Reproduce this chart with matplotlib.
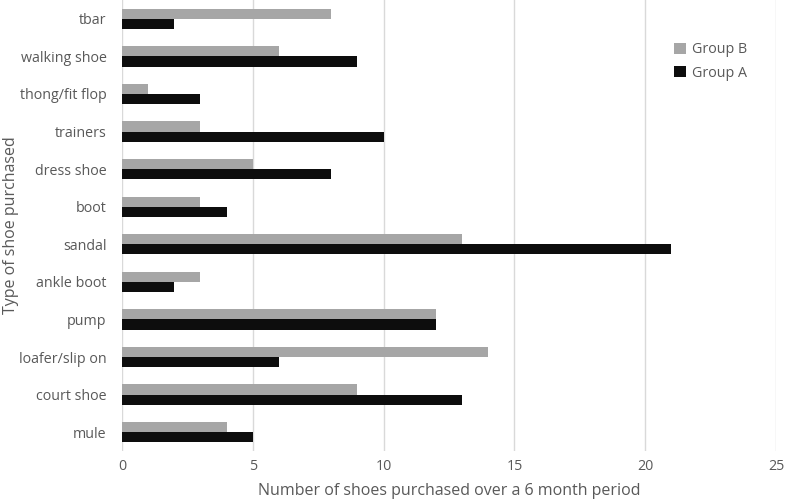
import matplotlib
matplotlib.use("Agg")
import matplotlib.pyplot as plt
import numpy as np

categories = ["mule", "court shoe", "loafer/slip on", "pump", "ankle boot", "sandal",
              "boot", "dress shoe", "trainers", "thong/fit flop", "walking shoe", "tbar"]
group_a = [5, 13, 6, 12, 2, 21, 4, 8, 10, 3, 9, 2]
group_b = [4, 9, 14, 12, 3, 13, 3, 5, 3, 1, 6, 8]
xticks = [0, 5, 10, 15, 20, 25]

plt.rcParams['font.family'] = ['Open Sans', 'DejaVu Sans']
txt = '#595959'

fig = plt.figure(figsize=(7.87, 5.0), dpi=100)
ax = fig.add_axes([0.155, 0.098, 0.831, 0.902])

y = np.arange(len(categories))
h = 0.27
ax.barh(y - h/2, group_a, height=h, color='#0d0d0d', label='Group A', zorder=3)
ax.barh(y + h/2, group_b, height=h, color='#a6a6a6', label='Group B', zorder=3)

ax.set_xlim(0, 25)
ax.set_ylim(-0.5, len(categories) - 0.5)
ax.set_xticks(xticks)
ax.set_yticks(y)
ax.set_yticklabels(categories)
for s in ax.spines.values():
    s.set_visible(False)
ax.grid(axis='x', color='#d9d9d9', linewidth=1, zorder=0)
ax.tick_params(length=0, labelsize=10.3, colors=txt, pad=6)
ax.tick_params(axis='y', pad=11)
ax.set_xlabel("Number of shoes purchased over a 6 month period", fontsize=11.5, color=txt)
ax.xaxis.set_label_coords(0.5, -0.072)
ax.set_ylabel("Type of shoe purchased", fontsize=11.5, color=txt)
ax.yaxis.set_label_coords(-0.158, 0.5)

handles, labels = ax.get_legend_handles_labels()
leg = ax.legend(handles[::-1], labels[::-1], loc='upper right', bbox_to_anchor=(0.975, 0.935),
                frameon=False, fontsize=10.3, handlelength=0.8, handleheight=0.8,
                handletextpad=0.4, labelspacing=0.6)
for t in leg.get_texts():
    t.set_color(txt)

fig.savefig("out.png", dpi=100)
